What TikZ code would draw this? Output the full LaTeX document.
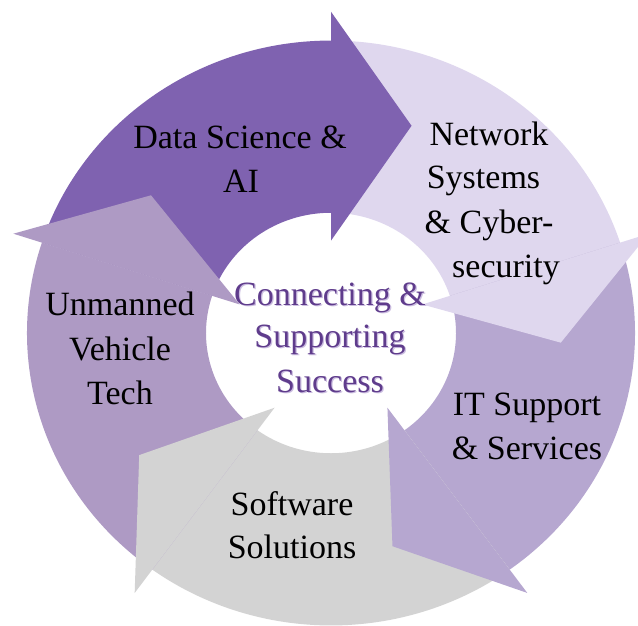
\documentclass[tikz,border=0pt]{standalone}
\usepackage{fontspec}
\setmainfont{Liberation Serif}
\definecolor{dsc}{HTML}{7F62B0}
\definecolor{nsc}{HTML}{DFD7EE}
\definecolor{itc}{HTML}{B6A7D0}
\definecolor{swc}{HTML}{D3D3D3}
\definecolor{uvc}{HTML}{AE9AC4}
\definecolor{ctr}{HTML}{5F3C8C}
\definecolor{ctrshadow}{HTML}{CBBDE0}
\begin{document}
\begin{tikzpicture}[x=1pt,y=1pt,
  lbl/.style={anchor=base, inner sep=0pt, font=\fontsize{34}{44}\selectfont, text=black},
  ctrlbl/.style={lbl, text=ctr},
  shadowlbl/.style={lbl, text=ctrshadow}]
\clip (0,0) rectangle (638,-625);
\begin{scope}[shift={(331,-333)}, yscale=0.962]
  % ring bodies
  \foreach \b/\c in {90/dsc, 18/nsc, -54/itc, -126/swc, 162/uvc} {
    \fill[\c] (\b:125) -- (\b:304) arc[start angle=\b, end angle=\b+72, radius=304]
      -- ({\b+72}:125) arc[start angle=\b+72, end angle=\b, radius=125] -- cycle;
  }
  % arrow heads
  \foreach \b/\c in {90/dsc, 18/nsc, -54/itc, -126/swc, 162/uvc} {
    \fill[\c] (\b:334) -- ({\b-20.5}:230) -- (\b:96) -- cycle;
  }
\end{scope}
% labels
\node[lbl] (ds1) at (240,-148.6) {Data Science \&};
\node[lbl] (ds2) at (241,-192.5) {AI};
\node[lbl] (ns1) at (489,-145) {Network};
\node[lbl] (ns2) at (483.5,-188) {Systems};
\node[lbl] (ns3) at (489,-233) {\& Cyber-};
\node[lbl] (ns4) at (506,-277) {security};
\node[lbl] (uv1) at (120,-315) {Unmanned};
\node[lbl] (uv2) at (120,-360) {Vehicle};
\node[lbl] (uv3) at (120,-404) {Tech};
\node[lbl] (it1) at (527,-415) {IT Support};
\node[lbl] (it2) at (527,-459) {\& Services};
\node[lbl] (sw1) at (292,-515) {Software};
\node[lbl] (sw2) at (292,-558) {Solutions};
% centre text with soft shadow
\node[shadowlbl] (cs1) at (331.2,-306.2) {Connecting \&};
\node[shadowlbl] (cs2) at (331.2,-348.2) {Supporting};
\node[shadowlbl] (cs3) at (331.2,-393.2) {Success};
\node[ctrlbl] (c1) at (330,-305) {Connecting \&};
\node[ctrlbl] (c2) at (330,-347) {Supporting};
\node[ctrlbl] (c3) at (330,-392) {Success};
\end{tikzpicture}
\end{document}
